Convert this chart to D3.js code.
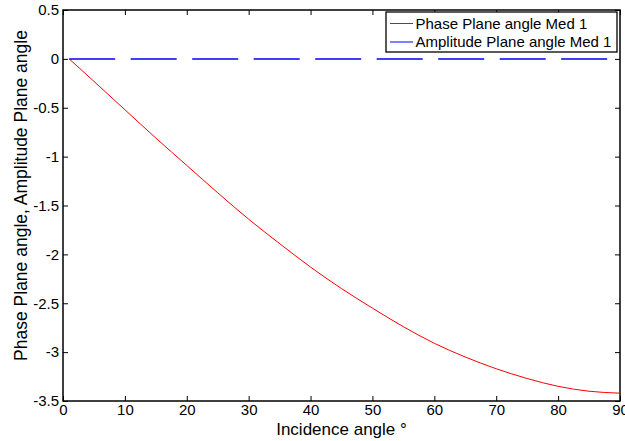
<!DOCTYPE html>
<html>
<head>
<meta charset="utf-8">
<script src="https://cdn.jsdelivr.net/npm/d3@7"></script>
<style>
  html, body { margin: 0; padding: 0; background: #fff; }
  svg { display: block; font-family: "Liberation Sans", Arial, sans-serif; }
</style>
</head>
<body>
<svg id="chart" width="625" height="441"></svg>
<script>
// Incidence angle (degrees)
const incidence = [1, 5, 10, 15, 20, 25, 30, 35, 40, 45, 50, 55, 60, 65, 70, 75, 80, 85, 90];
// Phase plane angle, medium 1
const phaseAngle = [0, -0.23, -0.52, -0.81, -1.09, -1.37, -1.64, -1.89, -2.13, -2.35, -2.55, -2.74, -2.91, -3.05, -3.17, -3.27, -3.35, -3.40, -3.42];
// Amplitude plane angle, medium 1
const amplitudeAngle = [0, 0, 0, 0, 0, 0, 0, 0, 0, 0, 0, 0, 0, 0, 0, 0, 0, 0, 0];

const xTicks = [0, 10, 20, 30, 40, 50, 60, 70, 80, 90];
const yTicks = [0.5, 0, -0.5, -1, -1.5, -2, -2.5, -3, -3.5];
const seriesNames = ["Phase Plane angle Med 1", "Amplitude Plane angle Med 1"];
const seriesColors = ["#ff0000", "#0000ff"];

const svg = d3.select("#chart");
const plot = { left: 63, right: 620, top: 10, bottom: 401 };

const x = d3.scaleLinear().domain([0, 90]).range([plot.left, plot.right]);
const y = d3.scaleLinear().domain([-3.5, 0.5]).range([plot.bottom, plot.top]);

const tickFont = "15px";

// Axes with inward ticks on all four sides
const axisBottom = d3.axisBottom(x).tickValues(xTicks).tickSize(-5).tickPadding(3).tickFormat(d3.format("d"));
const axisTop = d3.axisTop(x).tickValues(xTicks).tickSize(-5).tickFormat("");
const axisLeft = d3.axisLeft(y).tickValues(yTicks).tickSize(-5).tickPadding(4).tickFormat(d => d3.format("")(d).replace("−", "-"));
const axisRight = d3.axisRight(y).tickValues(yTicks).tickSize(-5).tickFormat("");

function styleAxis(g) {
  g.select(".domain").remove();
  g.selectAll(".tick line").attr("stroke", "#000").attr("stroke-width", 1);
  g.selectAll(".tick text").attr("fill", "#000").style("font-size", tickFont);
}

svg.append("g").attr("transform", `translate(0,${plot.bottom})`).call(axisBottom).call(styleAxis);
svg.append("g").attr("transform", `translate(0,${plot.top})`).call(axisTop).call(styleAxis);
svg.append("g").attr("transform", `translate(${plot.left},0)`).call(axisLeft).call(styleAxis);
svg.append("g").attr("transform", `translate(${plot.right},0)`).call(axisRight).call(styleAxis);

// Frame
svg.append("rect")
  .attr("x", plot.left).attr("y", plot.top)
  .attr("width", plot.right - plot.left).attr("height", plot.bottom - plot.top)
  .attr("fill", "none").attr("stroke", "#000").attr("stroke-width", 1.5);

// Data lines
const line = d3.line().x(d => x(d[0])).y(d => y(d[1])).curve(d3.curveMonotoneX);

svg.append("path")
  .datum(incidence.map((a, i) => [a, phaseAngle[i]]))
  .attr("d", line)
  .attr("fill", "none").attr("stroke", seriesColors[0]).attr("stroke-width", 1);

svg.append("path")
  .datum(incidence.map((a, i) => [a, amplitudeAngle[i]]))
  .attr("d", line)
  .attr("fill", "none").attr("stroke", seriesColors[1]).attr("stroke-width", 1.5)
  .attr("stroke-dasharray", "46,15.5");

// Legend
const legend = svg.append("g");
legend.append("rect")
  .attr("x", 386).attr("y", 12).attr("width", 231).attr("height", 40)
  .attr("fill", "#fff").attr("stroke", "#000").attr("stroke-width", 1.3);
seriesNames.forEach((name, i) => {
  const ly = 23.5 + i * 18.5;
  legend.append("line")
    .attr("x1", 390).attr("x2", 413).attr("y1", ly).attr("y2", ly)
    .attr("stroke", seriesColors[i]).attr("stroke-width", 1);
  legend.append("text")
    .attr("x", 415.5).attr("y", ly).attr("dy", "0.35em")
    .style("font-size", "15px").attr("fill", "#000")
    .text(name);
});

// Axis titles
svg.append("text")
  .attr("x", (plot.left + plot.right) / 2).attr("y", 435)
  .attr("text-anchor", "middle").style("font-size", "17px").attr("fill", "#000")
  .text("Incidence angle °");

svg.append("text")
  .attr("transform", `translate(27,${(plot.top + plot.bottom) / 2 - 10}) rotate(-90)`)
  .attr("text-anchor", "middle").style("font-size", "17.5px").attr("fill", "#000")
  .text("Phase Plane angle, Amplitude Plane angle");
</script>
</body>
</html>
